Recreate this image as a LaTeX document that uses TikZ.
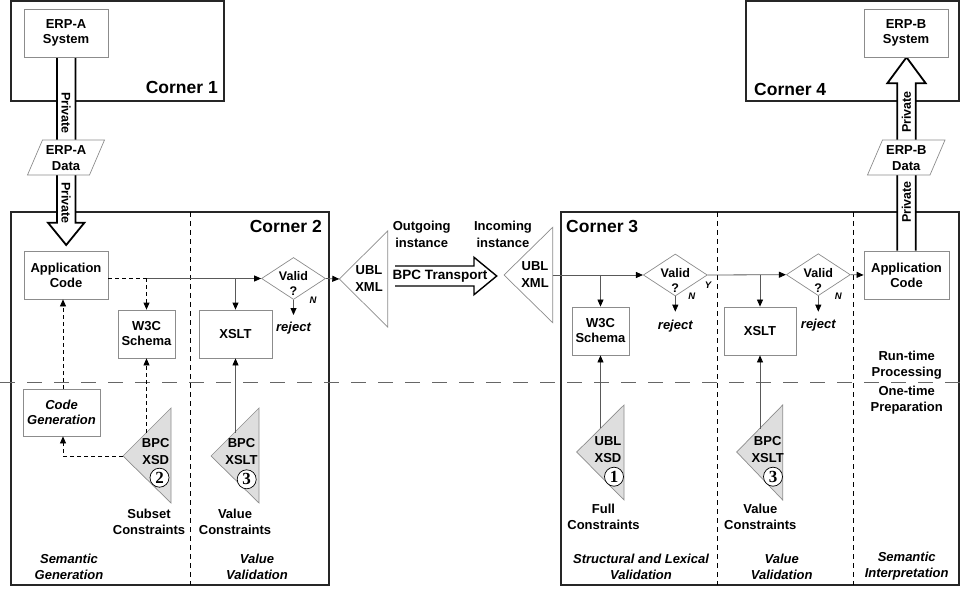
\documentclass[tikz,border=0pt]{standalone}
\usepackage{fontspec}
\setmainfont{Liberation Sans}
\newfontfamily\serifbold{Liberation Serif}
\usetikzlibrary{arrows.meta,shapes.geometric,calc}
\tikzset{
 corner/.style={draw=black!85, line width=1.2pt},
 cornerlabel/.style={inner sep=0pt, font=\bfseries\fontsize{17.5}{20}\selectfont},
 box/.style={draw=black!45, line width=0.8pt, fill=white, align=center, inner sep=0pt, font=\bfseries\fontsize{13}{15}\selectfont},
 itbox/.style={box, font=\bfseries\itshape\fontsize{13}{15}\selectfont},
 lbl/.style={align=center, inner sep=0pt, font=\bfseries\fontsize{13}{16}\selectfont},
 itlbl/.style={align=center, inner sep=0pt, font=\bfseries\itshape\fontsize{13}{16}\selectfont},
 tlbl/.style={align=center, inner sep=0pt, font=\bfseries\fontsize{13}{17}\selectfont},
 vlbl/.style={align=center, inner sep=0pt, font=\bfseries\fontsize{12.5}{15}\selectfont},
 dia/.style={diamond, draw=black!45, line width=0.7pt, fill=white, inner sep=0pt, minimum width=64pt, minimum height=42pt},
 yn/.style={inner sep=0pt, font=\bfseries\itshape\fontsize{9.5}{11}\selectfont},
 rej/.style={inner sep=0pt, font=\bfseries\itshape\fontsize{13}{15}\selectfont},
 arr/.style={-{Triangle[length=7pt,width=6pt,color=black]}},
 conn/.style={draw=black!65, line width=0.8pt},
 dconn/.style={draw=black, line width=0.8pt, dash pattern=on 4pt off 3pt},
 vdash/.style={draw=black, line width=0.9pt, dash pattern=on 5pt off 4pt},
 hdash/.style={draw=black!60, line width=1.3pt, dash pattern=on 15pt off 12pt},
 tri/.style={draw=black!45, line width=0.7pt, fill=black!13},
 wtri/.style={draw=black!45, line width=0.7pt, fill=white},
 para/.style={draw=black!45, line width=0.7pt, fill=white},
 bigarrow/.style={draw=black, line width=1.8pt, fill=white, line join=miter},
 transarrow/.style={draw=black, line width=1.4pt, line join=miter},
 priv/.style={inner sep=0pt, font=\bfseries\fontsize{12.5}{14}\selectfont},
 num/.style={circle, draw=black, line width=0.7pt, fill=white, inner sep=0pt, minimum size=19pt, font=\serifbold\bfseries\fontsize{17}{17}\selectfont},
}
\begin{document}
\begin{tikzpicture}[x=1pt,y=-1pt]
\useasboundingbox (0,0) rectangle (967,596);

% corner frames
\draw[corner] (11,1) rectangle (224,101);
\draw[corner] (746,1) rectangle (959,101);
\draw[corner] (11,212) rectangle (329,585);
\draw[corner] (561,212) rectangle (959,585);

\node[cornerlabel, anchor=east] (c1) at (218,87) {Corner 1};
\node[cornerlabel, anchor=east] (c2) at (322,226) {Corner 2};
\node[cornerlabel, anchor=west] (c3) at (566,226) {Corner 3};
\node[cornerlabel, anchor=west] (c4) at (754,89) {Corner 4};

% dashed separators
\draw[vdash] (190.5,212) -- (190.5,585);
\draw[vdash] (717.7,212) -- (717.7,585);
\draw[vdash] (853.3,212) -- (853.3,585);
\draw[hdash] (0,382.3) -- (967,382.3);

% big private arrows
\draw[bigarrow] (57,57) -- (57,222.7) -- (48,222.7) -- (66.2,245) -- (84.4,222.7) -- (75.4,222.7) -- (75.4,57);
\draw[bigarrow] (897.3,250.7) -- (897.3,83.3) -- (887.3,83.3) -- (906.5,57.3) -- (925.7,83.3) -- (915.7,83.3) -- (915.7,250.7);
\node[priv, rotate=-90] (pA1) at (66.2,113) {Private};
\node[priv, rotate=-90] (pA2) at (66.2,203) {Private};
\node[priv, rotate=90] (pB1) at (906.5,112) {Private};
\node[priv, rotate=90] (pB2) at (906.5,202) {Private};

% data parallelograms
\draw[para] (42.5,140) -- (104.5,140) -- (89.5,175) -- (27.5,175) -- cycle;
\node[lbl] (dataA) at (66,158) {ERP-A\\Data};
\draw[para] (882.5,140) -- (945,140) -- (930,175) -- (867.5,175) -- cycle;
\node[lbl] (dataB) at (906.3,158) {ERP-B\\Data};

% boxes
\node[box, minimum width=84pt, minimum height=48pt] (erpA) at (66,33) {ERP-A\\System};
\node[box, minimum width=84pt, minimum height=48pt] (erpB) at (906,33) {ERP-B\\System};
\node[box, minimum width=84pt, minimum height=48pt] (appA) at (66,275) {Application\\Code};
\node[box, minimum width=57pt, minimum height=48pt] (w3cA) at (146.5,334) {W3C\\Schema};
\node[box, minimum width=73pt, minimum height=48pt] (xsltA) at (235.5,334) {XSLT};
\node[itbox, minimum width=77pt, minimum height=47pt] (codegen) at (61.5,412.5) {Code\\Generation};
\node[box, minimum width=85pt, minimum height=48pt] (appB) at (906.5,275) {Application\\Code};
\node[box, minimum width=57pt, minimum height=48pt] (w3cB) at (600.5,331) {W3C\\Schema};
\node[box, minimum width=72pt, minimum height=48pt] (xsltB) at (760,331) {XSLT};

% diamonds
\node[dia] (vA) at (293.5,278.5) {};
\node[vlbl] (vAt) at (293.5,283.3) {Valid\\?};
\node[dia] (vB) at (675.3,275) {};
\node[vlbl] (vBt) at (675.3,280.3) {Valid\\?};
\node[dia] (vC) at (818.3,274.7) {};
\node[vlbl] (vCt) at (818.3,280.3) {Valid\\?};

\node[yn] (nA) at (313,300) {N};
\node[yn] (nB) at (691.7,296) {N};
\node[yn] (yB) at (708,285.7) {Y};
\node[yn] (nC) at (838.3,296.7) {N};

\node[rej] (rejA) at (293.5,328) {reject};
\node[rej] (rejB) at (675.3,325.7) {reject};
\node[rej] (rejC) at (818.3,325) {reject};
\coordinate (rAend) at (293.5,315);
\coordinate (rBend) at (675.3,311.7);
\coordinate (rCend) at (818.3,311.7);

% UBL XML instance triangles
\coordinate (outT) at (339.3,279);
\draw[wtri] (outT) -- (387.7,231) -- (387.7,327) -- cycle;
\node[tlbl] (outL) at (369,278.5) {UBL\\XML};
\coordinate (inT) at (504,275);
\coordinate (inR) at (552.7,275);
\draw[wtri] (inT) -- (552.7,227.3) -- (552.7,322.7) -- cycle;
\node[tlbl] (inL) at (535,275) {UBL\\XML};

\node[lbl, font=\bfseries\fontsize{13}{16.7}\selectfont] (outg) at (421.7,234.3) {Outgoing\\instance};
\node[lbl, font=\bfseries\fontsize{13}{16.7}\selectfont] (incg) at (503,234.3) {Incoming\\instance};

% BPC transport arrow
\draw[transarrow] (395,266) -- (474,266) -- (474,257.3) -- (496.7,276) -- (474,294.7) -- (474,286) -- (395,286);
\node[inner sep=0pt, font=\bfseries\fontsize{13.5}{15}\selectfont] (bpct) at (440,276) {BPC Transport};

% schema triangles
\coordinate (xsdT) at (123,456);
\draw[tri] (xsdT) -- (171,408) -- (171,503) -- cycle;
\node[tlbl] (xsdL) at (155.7,451.5) {BPC\\XSD};
\node[num] (n2) at (159.5,477.7) {2};

\coordinate (xslAT) at (211,456);
\draw[tri] (xslAT) -- (259,408) -- (259,503) -- cycle;
\node[tlbl] (xslAL) at (241.5,452) {BPC\\XSLT};
\node[num] (n3a) at (246.7,479.3) {3};

\coordinate (ublT) at (576.7,452);
\draw[tri] (ublT) -- (624,405) -- (624,500) -- cycle;
\node[tlbl] (ublL) at (608,449.7) {UBL\\XSD};
\node[num] (n1) at (614,476.7) {1};

\coordinate (xslBT) at (736.7,452);
\draw[tri] (xslBT) -- (782.7,405) -- (782.7,500) -- cycle;
\node[tlbl] (xslBL) at (767.7,449.7) {BPC\\XSLT};
\node[num] (n3b) at (773,476.7) {3};

% labels
\node[lbl] (subc) at (149,522) {Subset\\Constraints};
\node[lbl] (valcA) at (235,522) {Value\\Constraints};
\node[lbl] (fullc) at (603.5,517.3) {Full\\Constraints};
\node[lbl] (valcB) at (760.3,517.3) {Value\\Constraints};
\node[itlbl] (semg) at (69,567) {Semantic\\Generation};
\node[itlbl] (valvA) at (257,567) {Value\\Validation};
\node[itlbl] (slv) at (641,566.5) {Structural and Lexical\\Validation};
\node[itlbl] (valvB) at (781.7,566.5) {Value\\Validation};
\node[itlbl] (semi) at (906.7,566.5) {Semantic\\Interpretation};
\node[lbl] (rtp) at (906.7,364.7) {Run-time\\Processing};
\node[lbl] (otp) at (906.7,400) {One-time\\Preparation};

% connectors, corner 2
\coordinate (jA) at (146.5,278.5);
\coordinate (cgx) at (63,0);
\coordinate (xsdE) at (146.5,432.5);
\coordinate (xslAE) at (235.5,432.5);
\draw[dconn] (appA.east |- jA) -- (jA);
\draw[dconn,arr] (jA) -- (w3cA.north);
\draw[conn,arr] (jA) -- (vA.west);
\draw[conn,arr] (xsltA.north |- vA.west) -- (xsltA.north);
\draw[dconn,arr] (xsdE) -- (w3cA.south);
\draw[dconn,arr] (xsdT) -- (xsdT -| cgx) -- (codegen.south -| cgx);
\draw[dconn,arr] (codegen.north -| cgx) -- (appA.south -| cgx);
\draw[conn,arr] (xslAE) -- (xsltA.south);
\draw[conn,arr] (vA.south) -- (rAend);
\draw[conn,arr] (vA.east) -- (outT);

% connectors, corner 3
\coordinate (ublE) at (600.5,428.2);
\coordinate (xslBE) at (760,428.7);
\draw[conn,arr] (inR) -- (vB.west);
\draw[conn,arr] (w3cB.north |- vB.west) -- (w3cB.north);
\draw[conn,arr] (ublE) -- (w3cB.south);
\draw[conn,arr] (vB.east) -- (vC.west);
\draw[conn,arr] (xsltB.north |- vB.east) -- (xsltB.north);
\draw[conn,arr] (xslBE) -- (xsltB.south);
\draw[conn,arr] (vB.south) -- (rBend);
\draw[conn,arr] (vC.south) -- (rCend);
\draw[conn,arr] (vC.east) -- (appB.west);
\end{tikzpicture}
\end{document}
